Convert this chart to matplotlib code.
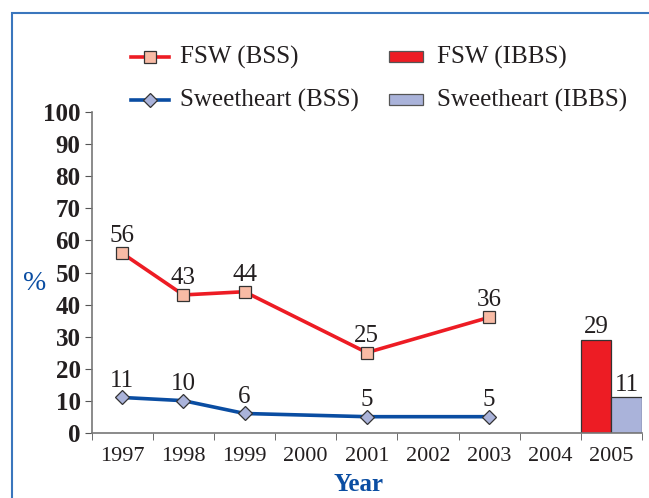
import numpy as np
import matplotlib.pyplot as plt
from matplotlib.patches import Rectangle
from matplotlib.lines import Line2D

plt.rcParams['font.family'] = ['Liberation Serif', 'DejaVu Serif']

years = ['1997', '1998', '1999', '2000', '2001', '2002', '2003', '2004', '2005']
bss_years = ['1997', '1998', '1999', '2001', '2003']
fsw_bss = [56, 43, 44, 25, 36]
sweet_bss = [11, 10, 6, 5, 5]
ibbs_year = '2005'
fsw_ibbs = 29
sweet_ibbs = 11

red = '#ED1C24'
blue = '#0A4DA2'
salmon = '#F8BBA5'
lavender = '#AAB3DA'
ink = '#231F20'

W, H = 649, 498
fig = plt.figure(figsize=(W / 100, H / 100), dpi=100)
ax = fig.add_axes([0.1413, 0.1311, 0.8479, 0.6434])


def fx(px):
    return px / W


def fy(py):
    return 1 - py / H


xpos = [years.index(y) for y in bss_years]
ax.plot(xpos, fsw_bss, color=red, lw=2.6, marker='s', ms=9,
        mfc=salmon, mec='#333333', mew=0.9, zorder=3)
ax.plot(xpos, sweet_bss, color=blue, lw=2.6, marker='D', ms=7,
        mfc=lavender, mec='#333333', mew=0.9, zorder=3)

for x, v in zip(xpos, fsw_bss):
    ax.text(x, v + 3.4, str(v), ha='center', va='baseline', fontsize=18, color=ink)
for x, v in zip(xpos, sweet_bss):
    ax.text(x, v + 3.3, str(v), ha='center', va='baseline', fontsize=18, color=ink)

bx = years.index(ibbs_year)
ax.bar(bx - 0.25, fsw_ibbs, width=0.5, color=red, edgecolor='#333333', lw=0.9, zorder=2)
ax.bar(bx + 0.25, sweet_ibbs, width=0.5, color=lavender, edgecolor='#333333', lw=0.9, zorder=2)
ax.text(bx - 0.25, fsw_ibbs + 2.2, str(fsw_ibbs), ha='center', va='baseline', fontsize=18, color=ink)
ax.text(bx + 0.25, sweet_ibbs + 2.1, str(sweet_ibbs), ha='center', va='baseline', fontsize=18, color=ink)

ax.set_xlim(-0.5, len(years) - 0.5)
ax.set_ylim(0, 100)
ax.set_yticks(np.arange(0, 101, 10))
ax.set_yticklabels([str(v) for v in range(0, 101, 10)], fontsize=18, fontweight='bold', color=ink)
ax.set_xticks(range(len(years)))
ax.set_xticklabels(years, fontsize=16, color=ink)
ax.set_xticks(np.arange(-0.5, len(years), 1), minor=True)
ax.tick_params(axis='x', which='major', length=0, pad=10)
ax.tick_params(axis='x', which='minor', length=5, color='#555555')
ax.tick_params(axis='y', length=5, color='#555555', pad=3)
for s in ['top', 'right']:
    ax.spines[s].set_visible(False)
for s in ['left', 'bottom']:
    ax.spines[s].set_color('#777777')
    ax.spines[s].set_linewidth(1.2)

fig.text(fx(35), fy(283), '%', color=blue, fontsize=20, ha='center', va='center')
fig.text(fx(358), fy(484), 'Year', color=blue, fontsize=18, fontweight='bold', ha='center', va='center')

# legend drawn by hand to match the two-column layout
leg_rows = [57, 100]
line_styles = [
    dict(color=red, marker='s', ms=9, mfc=salmon),
    dict(color=blue, marker='D', ms=7, mfc=lavender),
]
line_labels = ['FSW (BSS)', 'Sweetheart (BSS)']
bar_colors = [red, lavender]
bar_labels = ['FSW (IBBS)', 'Sweetheart (IBBS)']
for row, st, lab in zip(leg_rows, line_styles, line_labels):
    fig.add_artist(Line2D([fx(131), fx(169)], [fy(row), fy(row)], lw=2.6,
                          transform=fig.transFigure, mec='#333333', mew=0.9,
                          markevery=[], **st))
    fig.add_artist(Line2D([fx(150)], [fy(row)], lw=0, transform=fig.transFigure,
                          mec='#333333', mew=0.9, **st))
    fig.text(fx(180), fy(row), lab, fontsize=18, color=ink, ha='left', va='center')
for row, c, lab in zip(leg_rows, bar_colors, bar_labels):
    fig.add_artist(Rectangle((fx(389), fy(row + 5)), fx(34), 10.5 / H, fc=c, ec='#555555',
                             lw=0.9, transform=fig.transFigure))
    fig.text(fx(437), fy(row), lab, fontsize=18, color=ink, ha='left', va='center')

fig.add_artist(Rectangle((fx(11.5), -0.1), 2, 1.1 - 12.7 / H, transform=fig.transFigure,
                         fill=False, ec='#3A76BD', lw=1.5))

fig.savefig('out.png', dpi=100)
